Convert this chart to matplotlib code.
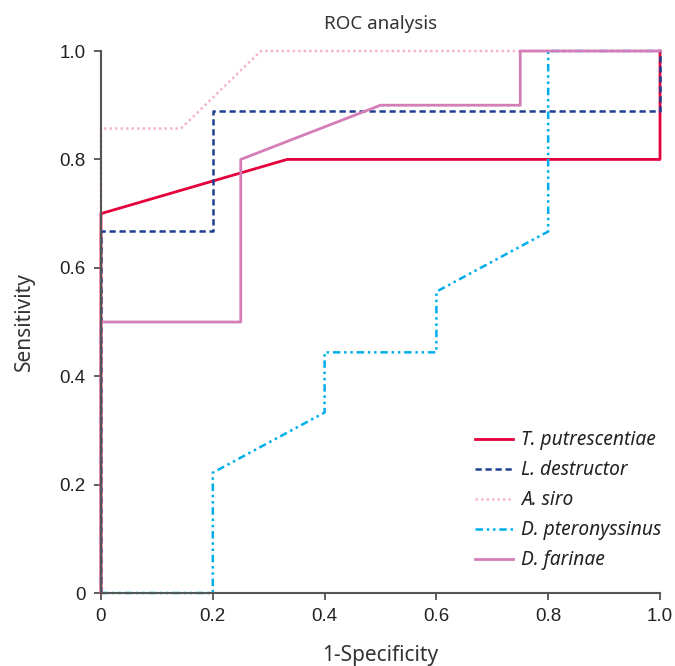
import matplotlib
matplotlib.use("Agg")
import matplotlib.pyplot as plt

# Data
species = ["T. putrescentiae", "L. destructor", "A. siro", "D. pteronyssinus", "D. farinae"]
fpr_tp = [0, 0, 0.333, 1.0, 1.0]
tpr_tp = [0, 0.7, 0.8, 0.8, 1.0]
fpr_ld = [0, 0, 0.2, 0.2, 1.0, 1.0]
tpr_ld = [0, 0.667, 0.667, 0.889, 0.889, 1.0]
fpr_as = [0, 0, 0.143, 0.286, 1.0]
tpr_as = [0, 0.857, 0.857, 1.0, 1.0]
fpr_dp = [0, 0.2, 0.2, 0.4, 0.4, 0.6, 0.6, 0.8, 0.8, 1.0]
tpr_dp = [0, 0, 0.222, 0.333, 0.444, 0.444, 0.556, 0.667, 1.0, 1.0]
fpr_df = [0, 0, 0.25, 0.25, 0.5, 0.75, 0.75, 1.0]
tpr_df = [0, 0.5, 0.5, 0.8, 0.9, 0.9, 1.0, 1.0]
ticks = [0, 0.2, 0.4, 0.6, 0.8, 1.0]
tick_labels = ["0", "0.2", "0.4", "0.6", "0.8", "1.0"]

colors = ["#E4003A", "#1E3F91", "#F5B5D0", "#00AEEA", "#D47DB6"]
styles = ["-", (0, (2.5, 1.5)), (0, (1, 1.2)), (0, (3, 1.5, 1, 1.5, 1, 1.5)), "-"]
widths = [2.0, 1.8, 1.8, 1.8, 2.0]

fig = plt.figure(figsize=(6.75, 6.66), dpi=100)
ax = fig.add_axes([0.1496, 0.1096, 0.8282, 0.8138])

series = [(fpr_tp, tpr_tp), (fpr_ld, tpr_ld), (fpr_as, tpr_as), (fpr_dp, tpr_dp), (fpr_df, tpr_df)]
for (x, y), name, c, ls, lw in zip(series, species, colors, styles, widths):
    ax.plot(x, y, color=c, linestyle=ls, linewidth=lw, label=name, clip_on=False)

ax.set_xlim(0, 1)
ax.set_ylim(0, 1)
ax.set_xticks(ticks)
ax.set_xticklabels(tick_labels)
ax.set_yticks(ticks)
ax.set_yticklabels(tick_labels)
for lab in ax.get_xticklabels() + ax.get_yticklabels():
    lab.set_fontfamily("Liberation Sans")
    lab.set_fontsize(13.5)
    lab.set_color("#222222")
ax.tick_params(direction="out", length=5, width=1.2, color="#444444", pad=6)
ax.spines["top"].set_visible(False)
ax.spines["right"].set_visible(False)
for s in ["left", "bottom"]:
    ax.spines[s].set_linewidth(1.5)
    ax.spines[s].set_color("#555555")

ax.set_title("ROC analysis", pad=16, family="Noto Sans", fontsize=13.5, color="#333333")
ax.set_xlabel("1-Specificity", labelpad=14, family="Noto Sans", fontsize=15, color="#333333")
ax.set_ylabel("Sensitivity", labelpad=18, family="Noto Sans", fontsize=15, color="#333333")

leg = ax.legend(loc="upper left", bbox_to_anchor=(0.669, 0.30), frameon=False,
                prop=dict(family="Noto Sans", style="italic", size=13.8),
                handlelength=2.0, handletextpad=0.42, labelspacing=0.52,
                borderpad=0, borderaxespad=0)
for t in leg.get_texts():
    t.set_color("#222222")

fig.savefig("out.png", dpi=100)
